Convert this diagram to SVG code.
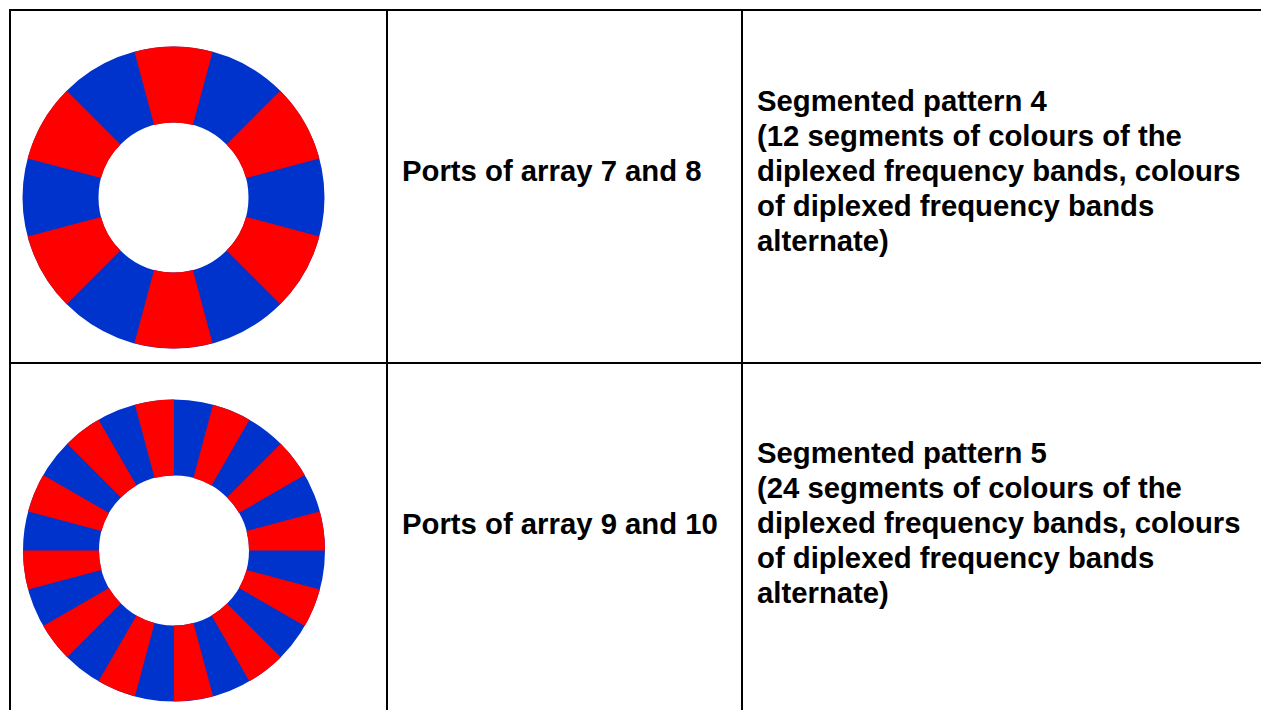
<svg xmlns="http://www.w3.org/2000/svg" width="1261" height="710" viewBox="0 0 1261 710">
  <style>
    .grid { stroke: #000; stroke-width: 2; fill: none; }
    .lbl { font-family: "Liberation Sans", Arial, sans-serif; font-weight: bold; font-size: 29.3px; fill: #000; }
    .band-b { fill: none; stroke: #0033CC; stroke-width: 76; }
    .band-r { fill: none; stroke: #FF0000; stroke-width: 76; }
  </style>
  <rect width="1261" height="710" fill="#fff"/>

  <!-- table rules -->
  <g id="table">
    <line class="grid" x1="9" y1="10" x2="1261" y2="10"/>
    <line class="grid" x1="9" y1="363" x2="1261" y2="363"/>
    <line class="grid" x1="10" y1="9" x2="10" y2="710"/>
    <line class="grid" x1="387" y1="9" x2="387" y2="710"/>
    <line class="grid" x1="742" y1="9" x2="742" y2="710"/>
  </g>

  <!-- pattern 4: 12 alternating segments -->
  <g id="ring12">
    <circle class="band-b" cx="173.5" cy="197.5" r="113"/>
    <circle class="band-r" cx="173.5" cy="197.5" r="113" pathLength="360" stroke-dasharray="30 30" stroke-dashoffset="-15"/>
  </g>

  <!-- pattern 5: 24 alternating segments -->
  <g id="ring24">
    <circle class="band-b" cx="174" cy="550.5" r="113"/>
    <circle class="band-r" cx="174" cy="550.5" r="113" pathLength="360" stroke-dasharray="15 15" stroke-dashoffset="-15"/>
  </g>

  <g id="row1-ports">
    <text class="lbl" x="402" y="181">Ports of array 7 and 8</text>
  </g>
  <g id="row1-desc">
    <text class="lbl" x="757" y="111">Segmented pattern 4</text>
    <text class="lbl" x="757" y="146">(12 segments of colours of the</text>
    <text class="lbl" x="757" y="181">diplexed frequency bands, colours</text>
    <text class="lbl" x="757" y="216">of diplexed frequency bands</text>
    <text class="lbl" x="757" y="251">alternate)</text>
  </g>

  <g id="row2-ports">
    <text class="lbl" x="402" y="534">Ports of array 9 and 10</text>
  </g>
  <g id="row2-desc">
    <text class="lbl" x="757" y="463">Segmented pattern 5</text>
    <text class="lbl" x="757" y="498">(24 segments of colours of the</text>
    <text class="lbl" x="757" y="533">diplexed frequency bands, colours</text>
    <text class="lbl" x="757" y="568">of diplexed frequency bands</text>
    <text class="lbl" x="757" y="603">alternate)</text>
  </g>
</svg>
